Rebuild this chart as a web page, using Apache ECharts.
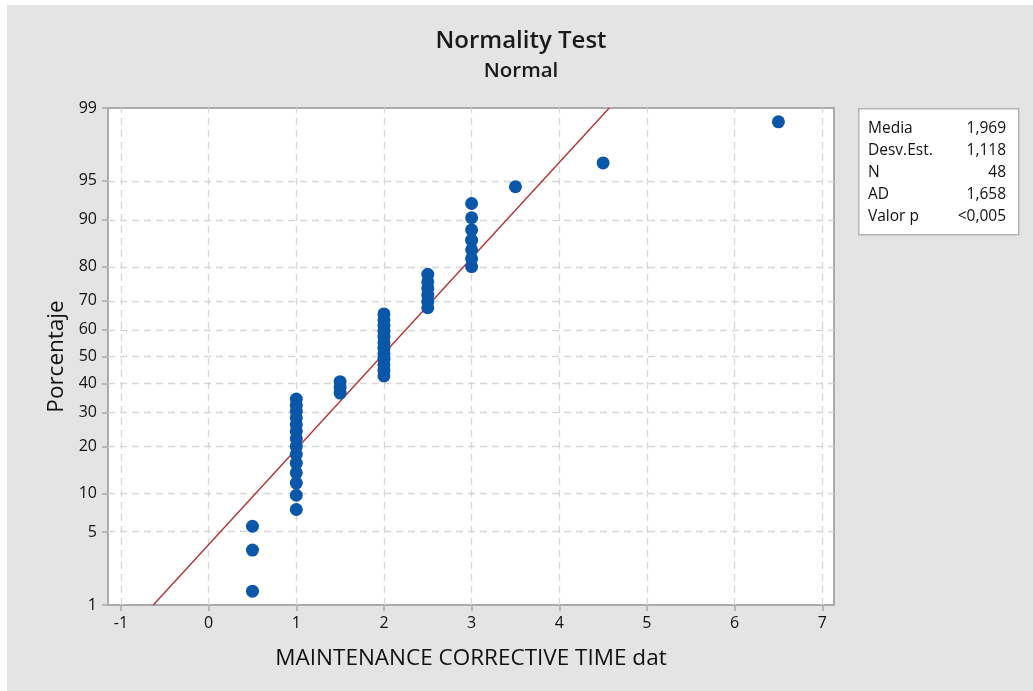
<!DOCTYPE html>
<html>
<head>
<meta charset="utf-8">
<script src="https://cdn.jsdelivr.net/npm/echarts@6/dist/echarts.min.js"></script>
<style>
html,body{margin:0;padding:0;background:#fff;}
#main{position:absolute;left:0;top:0;width:1033px;height:691px;
background:linear-gradient(#e4e4e4,#e4e4e4) 7px 5px / 1026px 686px no-repeat, #fff;}
</style>
</head>
<body>
<div id="main"></div>
<script>
// ---- data ----
const xValues = [0.5,0.5,0.5,
  1,1,1,1,1,1,1,1,1,1,1,1,1,1,
  1.5,1.5,1.5,
  2,2,2,2,2,2,2,2,2,2,2,2,
  2.5,2.5,2.5,2.5,2.5,2.5,
  3,3,3,3,3,3,3,
  3.5,4.5,6.5];
const percents = [1.4,3.5,5.6,
  7.6,9.7,11.8,13.8,15.9,18.0,20.0,22.1,24.2,26.2,28.3,30.4,32.4,34.5,
  36.6,38.6,40.7,
  42.8,44.8,46.9,49.0,51.0,53.1,55.2,57.2,59.3,61.4,63.4,65.5,
  67.6,69.6,71.7,73.8,75.8,77.9,
  80.0,82.0,84.1,86.2,88.2,90.3,92.4,
  94.4,96.5,98.6];
const yTicks = [1,5,10,20,30,40,50,60,70,80,90,95,99];
const xTicks = [-1,0,1,2,3,4,5,6,7];
const statLabels = ['Media','Desv.Est.','N','AD','Valor p'];
const statValues = ['1,969','1,118','48','1,658','<0,005'];
const fitMean = 1.969;
const fitSd = 1.118;

// probability-axis transform (inverse normal CDF, Acklam)
function probit(p){
  const a=[-3.969683028665376e+01,2.209460984245205e+02,-2.759285104469687e+02,1.383577518672690e+02,-3.066479806614716e+01,2.506628277459239e+00];
  const b=[-5.447609879822406e+01,1.615858368580409e+02,-1.556989798598866e+02,6.680131188771972e+01,-1.328068155288572e+01];
  const c=[-7.784894002430293e-03,-3.223964580411365e-01,-2.400758277161838e+00,-2.549732539343734e+00,4.374664141464968e+00,2.938163982698783e+00];
  const d=[7.784695709041462e-03,3.224671290700398e-01,2.445134137142996e+00,3.754408661907416e+00];
  const pl=0.02425, ph=1-pl; let q,r;
  if(p<pl){q=Math.sqrt(-2*Math.log(p));return (((((c[0]*q+c[1])*q+c[2])*q+c[3])*q+c[4])*q+c[5])/((((d[0]*q+d[1])*q+d[2])*q+d[3])*q+1);}
  if(p<=ph){q=p-0.5;r=q*q;return (((((a[0]*r+a[1])*r+a[2])*r+a[3])*r+a[4])*r+a[5])*q/(((((b[0]*r+b[1])*r+b[2])*r+b[3])*r+b[4])*r+1);}
  q=Math.sqrt(-2*Math.log(1-p));return -(((((c[0]*q+c[1])*q+c[2])*q+c[3])*q+c[4])*q+c[5])/((((d[0]*q+d[1])*q+d[2])*q+d[3])*q+1);
}
const yTickZ = yTicks.map(v=>probit(v/100));
const zMin = probit(0.01), zMax = probit(0.99);
const points = xValues.map((x,i)=>[x, probit(percents[i]/100)]);
const fitLine = [[fitMean+zMin*fitSd, zMin],[fitMean+zMax*fitSd, zMax]];

const FONT = '"Open Sans", "Noto Sans", sans-serif';
const GRAY = '#ababab';
const chart = echarts.init(document.getElementById('main'), null, {renderer:'canvas'});

const gridLines = xTicks.map(v=>({xAxis:v})).concat(yTickZ.map(v=>({yAxis:v})));

chart.setOption({
  backgroundColor:'transparent',
  animation:false,
  title:[
    {text:'Normality Test', left:516, top:24, textAlign:'center',
     textStyle:{fontFamily:FONT, fontSize:24, fontWeight:600, color:'#1a1a1a'}},
    {text:'Normal', left:516, top:56, textAlign:'center',
     textStyle:{fontFamily:FONT, fontSize:20.5, fontWeight:600, color:'#1a1a1a'}}
  ],
  grid:{left:108, top:108, right:199, bottom:86, show:true, backgroundColor:'#fff',
        borderColor:GRAY, borderWidth:2, containLabel:false},
  xAxis:{type:'value', min:-1.148, max:7.134,
    name:'MAINTENANCE CORRECTIVE TIME dat', nameLocation:'middle', nameGap:42,
    nameTextStyle:{fontFamily:FONT, fontSize:22.5, color:'#111'},
    axisLine:{show:true, onZero:false, lineStyle:{color:GRAY, width:2}},
    axisTick:{show:true, length:6, customValues:xTicks, lineStyle:{color:GRAY, width:1.5}},
    axisLabel:{customValues:xTicks, margin:10, fontFamily:FONT, fontSize:16, color:'#111'},
    splitLine:{show:false}},
  yAxis:{type:'value', min:zMin, max:zMax,
    name:'Porcentaje', nameLocation:'middle', nameGap:40,
    nameTextStyle:{fontFamily:FONT, fontSize:22.5, color:'#111'},
    axisLine:{show:true, onZero:false, lineStyle:{color:GRAY, width:2}},
    axisTick:{show:true, length:6, customValues:yTickZ, lineStyle:{color:GRAY, width:1.5}},
    axisLabel:{customValues:yTickZ, margin:11, fontFamily:FONT, fontSize:16, color:'#111',
      formatter:function(v){let best=0,bd=1e9;yTickZ.forEach((z,i)=>{const d=Math.abs(z-v);if(d<bd){bd=d;best=i;}});return String(yTicks[best]);}},
    splitLine:{show:false}},
  series:[
    {type:'line', data:[], z:1, silent:true,
     markLine:{silent:true, symbol:'none', z:1, animation:false,
       label:{show:false}, lineStyle:{color:'#d6d6d6', type:[7,5], width:1.3},
       data:gridLines}},
    {type:'line', data:fitLine, z:2, symbol:'none', silent:true,
     lineStyle:{color:'#b03434', width:1.4}},
    {type:'scatter', data:points, z:3, symbol:'circle', symbolSize:13,
     itemStyle:{color:'#0a56a8', opacity:1}}
  ],
  graphic:[
    {type:'rect', left:858, top:108, shape:{width:160, height:126},
     style:{fill:'#fff', stroke:'#b4b4b4', lineWidth:1.5}, z:10},
    ...statLabels.map((t,i)=>({type:'text', x:868, y:129+i*21.8, z:11,
      style:{text:t, font:'15.5px '+FONT, fill:'#111', textAlign:'left', textVerticalAlign:'middle'}})),
    ...statValues.map((t,i)=>({type:'text', x:1006, y:129+i*21.8, z:11,
      style:{text:t, font:'15.5px '+FONT, fill:'#111', textAlign:'right', textVerticalAlign:'middle'}}))
  ]
});
</script>
</body>
</html>
